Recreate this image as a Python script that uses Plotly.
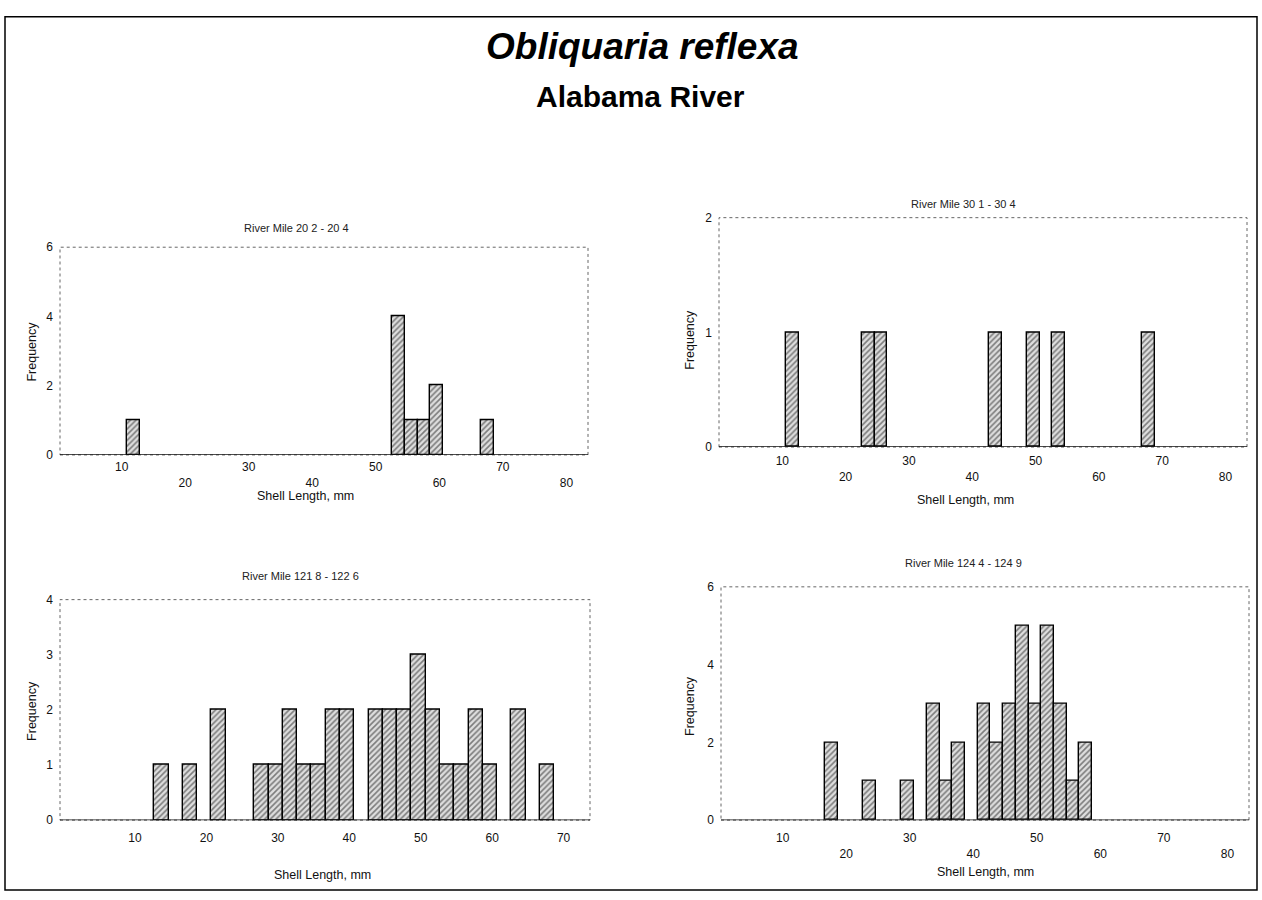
import plotly.graph_objects as go

# ---------------- data ----------------
bin_width = 2.0

tl_title = "River Mile 20 2 - 20 4"
tl_len = [11.9, 53.6, 55.6, 57.6, 59.6, 67.6]
tl_freq = [1, 4, 1, 1, 2, 1]

tr_title = "River Mile 30 1 - 30 4"
tr_len = [11.6, 23.6, 25.6, 43.7, 49.7, 53.6, 67.8]
tr_freq = [1, 1, 1, 1, 1, 1, 1]

bl_title = "River Mile 121 8 - 122 6"
bl_len = [13.7, 17.7, 21.7, 27.7, 29.7, 31.7, 33.7, 35.7, 37.7, 39.7, 43.7,
          45.7, 47.7, 49.7, 51.7, 53.7, 55.7, 57.7, 59.7, 63.7, 67.7]
bl_freq = [1, 1, 2, 1, 1, 2, 1, 1, 2, 2, 2, 2, 2, 3, 2, 1, 1, 2, 1, 2, 1]

br_title = "River Mile 124 4 - 124 9"
br_len = [17.7, 23.7, 29.7, 33.7, 35.7, 37.7, 41.7, 43.7, 45.7, 47.7, 49.7,
          51.7, 53.7, 55.7, 57.7]
br_freq = [2, 1, 1, 3, 1, 2, 3, 2, 3, 5, 3, 5, 3, 1, 2]

x_ticks_80 = [10, 20, 30, 40, 50, 60, 70, 80]
x_ticks_70 = [10, 20, 30, 40, 50, 60, 70]

main_title = "Obliquaria reflexa"
sub_title = "Alabama River"
x_label = "Shell Length, mm"
y_label = "Frequency"

# ---------------- layout helpers ----------------
W, H = 1262, 900
FONT = "Liberation Sans, Arial, sans-serif"


def px_x(x):
    return x / W


def px_y(y):
    return 1 - y / H


panels = [
    dict(t=tl_title, x=tl_len, y=tl_freq, xr=[0.3, 83.4], yr=[0, 6], yt=[0, 2, 4, 6],
         xt=x_ticks_80, alt=True, box=(60, 588, 244, 455), tx=296, ty=224,
         xlx=305, xly=497, yly=350, ylx=32, so=3),
    dict(t=tr_title, x=tr_len, y=tr_freq, xr=[0.0, 83.4], yr=[0, 2], yt=[0, 1, 2],
         xt=x_ticks_80, alt=True, box=(719, 1247, 214, 447), tx=963, ty=200,
         xlx=965, xly=501, yly=338, ylx=690, so=5),
    dict(t=bl_title, x=bl_len, y=bl_freq, xr=[-0.5, 73.7], yr=[0, 4], yt=[0, 1, 2, 3, 4],
         xt=x_ticks_70, alt=False, box=(60, 590, 602, 826), tx=300, ty=578,
         xlx=322, xly=882, yly=715, ylx=32, so=9),
    dict(t=br_title, x=br_len, y=br_freq, xr=[0.3, 83.4], yr=[0, 6], yt=[0, 2, 4, 6],
         xt=x_ticks_80, alt=True, box=(721, 1249, 589, 826), tx=963, ty=565,
         xlx=985, xly=879, yly=710, ylx=690, so=9),
]

fig = go.Figure()
annotations = []
shapes = []
layout_axes = {}

for i, p in enumerate(panels, start=1):
    xa = "x" if i == 1 else f"x{i}"
    ya = "y" if i == 1 else f"y{i}"
    xkey = "xaxis" if i == 1 else f"xaxis{i}"
    ykey = "yaxis" if i == 1 else f"yaxis{i}"
    l, r, t, b = p["box"]

    fig.add_trace(go.Bar(
        x=p["x"], y=p["y"], width=bin_width, xaxis=xa, yaxis=ya,
        marker=dict(color="white",
                    line=dict(color="black", width=1.4),
                    pattern=dict(shape="/", fgcolor="#1a1a1a", bgcolor="#dedede",
                                 size=4, solidity=0.4)),
        showlegend=False, hoverinfo="skip"))

    if p["alt"]:
        ttext = [str(v) if k % 2 == 0 else "<br>" + str(v) for k, v in enumerate(p["xt"])]
    else:
        ttext = [str(v) for v in p["xt"]]

    layout_axes[xkey] = dict(
        domain=[px_x(l), px_x(r)], range=p["xr"], anchor=ya,
        tickvals=p["xt"], ticktext=ttext, ticks="", showgrid=False,
        zeroline=False, showline=False, ticklabelstandoff=p["so"],
        tickfont=dict(family=FONT, size=12, color="#111"),
    )
    layout_axes[ykey] = dict(
        domain=[px_y(b), px_y(t)], range=p["yr"], anchor=xa,
        tickvals=p["yt"], ticks="", showgrid=False, zeroline=False,
        showline=False, ticklabelstandoff=6,
        tickfont=dict(family=FONT, size=12, color="#111"),
    )

    # dotted frame
    shapes.append(dict(type="rect", xref=f"{xa} domain", yref=f"{ya} domain",
                       x0=0, x1=1, y0=0, y1=1,
                       line=dict(color="#666", width=1, dash="dot"), layer="below"))
    # solid baseline
    shapes.append(dict(type="line", xref=f"{xa} domain", yref=ya,
                       x0=0, x1=1, y0=0, y1=0,
                       line=dict(color="#111", width=1.5), layer="above"))

    # panel title
    annotations.append(dict(text=p["t"], xref="paper", yref="paper",
                            x=px_x(p["tx"]), y=px_y(p["ty"]),
                            xanchor="center", yanchor="middle", showarrow=False,
                            font=dict(family=FONT, size=11, color="#222")))
    # x-axis title
    annotations.append(dict(text=x_label, xref="paper", yref="paper",
                            x=px_x(p["xlx"]), y=px_y(p["xly"]),
                            xanchor="center", yanchor="middle", showarrow=False,
                            font=dict(family=FONT, size=12.5, color="#111")))
    # y-axis title
    annotations.append(dict(text=y_label, xref="paper", yref="paper",
                            x=px_x(p["ylx"]), y=px_y(p["yly"]), textangle=-90,
                            xanchor="center", yanchor="middle", showarrow=False,
                            font=dict(family=FONT, size=12.5, color="#111")))

# main titles
annotations.append(dict(text=f"<b><i>{main_title}</i></b>", xref="paper", yref="paper",
                        x=px_x(643), y=px_y(40), xanchor="center", yanchor="middle",
                        showarrow=False, font=dict(family=FONT, size=37, color="black")))
annotations.append(dict(text=f"<b>{sub_title}</b>", xref="paper", yref="paper",
                        x=px_x(640), y=px_y(91), xanchor="center", yanchor="middle",
                        showarrow=False, font=dict(family=FONT, size=30, color="black")))

# page border
shapes.append(dict(type="rect", xref="paper", yref="paper",
                   x0=px_x(5), x1=px_x(1257), y0=px_y(897), y1=px_y(10),
                   line=dict(color="black", width=1.5)))

fig.update_layout(
    width=W, height=H, margin=dict(l=0, r=0, t=0, b=0),
    paper_bgcolor="white", plot_bgcolor="white",
    annotations=annotations, shapes=shapes, bargap=0,
    font=dict(family=FONT),
    **layout_axes,
)

fig.write_html("out.html",
               config={"displayModeBar": False},
               post_script="document.body.style.margin='0';"
                           "document.body.style.overflow='hidden';")
